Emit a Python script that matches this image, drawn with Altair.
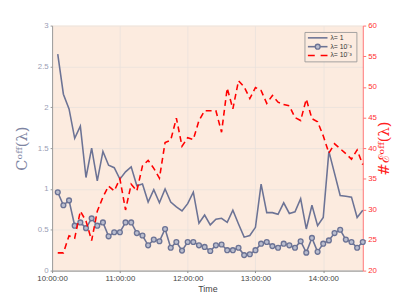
import altair as alt
import pandas as pd

# ---- data (5-minute samples, 10:05 .. 14:35) ----
times = pd.date_range("2020-01-01 10:05", periods=55, freq="5min").strftime("%Y-%m-%dT%H:%M:%S").tolist()

c_off_lambda_1 = [2.65, 2.16, 1.98, 1.62, 1.77, 1.14, 1.50, 1.10, 1.46, 1.29,
                  1.26, 1.12, 1.21, 1.27, 1.04, 1.06, 0.84, 0.99, 0.83, 1.00,
                  0.84, 0.78, 0.73, 0.82, 0.96, 0.58, 0.68, 0.56, 0.63, 0.64,
                  0.59, 0.74, 0.57, 0.41, 0.43, 0.53, 1.06, 0.71, 0.71, 0.69,
                  0.83, 0.70, 0.72, 0.88, 0.51, 0.80, 0.55, 0.65, 1.46, 1.19,
                  0.92, 0.91, 0.90, 0.65, 0.74]

c_off_lambda_1e3 = [0.96, 0.80, 0.86, 0.55, 0.59, 0.52, 0.64, 0.55, 0.59, 0.42,
                    0.47, 0.47, 0.59, 0.59, 0.46, 0.43, 0.31, 0.38, 0.36, 0.51,
                    0.28, 0.35, 0.245, 0.35, 0.35, 0.31, 0.29, 0.24, 0.31, 0.32,
                    0.25, 0.25, 0.28, 0.19, 0.20, 0.25, 0.33, 0.35, 0.30, 0.28,
                    0.33, 0.31, 0.28, 0.36, 0.22, 0.40, 0.23, 0.33, 0.37, 0.46,
                    0.50, 0.38, 0.35, 0.28, 0.35]

e_off_lambda_1e3 = [22.9, 22.9, 25.7, 25.3, 29.7, 28.1, 24.9, 29.7, 32.0, 33.8,
                    33.0, 35.0, 29.9, 34.1, 33.0, 37.1, 38.0, 36.7, 35.1, 40.9,
                    41.3, 44.9, 40.3, 41.7, 41.4, 44.5, 46.1, 46.1, 46.1, 42.6,
                    49.8, 46.4, 51.0, 50.0, 48.1, 49.9, 49.4, 47.3, 48.6, 47.5,
                    47.1, 46.9, 45.0, 44.5, 48.0, 44.8, 44.3, 42.0, 39.2, 40.7,
                    39.9, 39.1, 38.2, 39.7, 37.3]

hour_ticks = [10, 11, 12, 13, 14]
left_ticks = [0, 0.5, 1, 1.5, 2, 2.5, 3]
right_ticks = [20, 25, 30, 35, 40, 45, 50, 55, 60]
legend_labels = ["λ= 1", "λ= 10⁻³", "λ= 10⁻³"]

df = pd.DataFrame({"t": times, "a": c_off_lambda_1, "b": c_off_lambda_1e3, "c": e_off_lambda_1e3})

FONT = "Liberation Sans"
GRAY = "#6C7395"
LIGHT = "#BABDCE"
RED = "#FF0000"
BG = "#FCEBDF"
GRID = "#E9E2DD"


def dt(h, m=0):
    return alt.DateTime(year=2020, month=1, date=1, hours=h, minutes=m)


x_enc = alt.X(
    "t:T",
    scale=alt.Scale(domain=[dt(10), dt(14, 35)]),
    axis=alt.Axis(
        values=[dt(h) for h in hour_ticks], format="%H:%M:%S", title="Time",
        labelFontSize=8, labelColor="#444444", labelFont=FONT, labelFlush=False,
        titleFontSize=9, titleFontWeight="normal", titleColor="#444444", titleFont=FONT,
        grid=True, gridColor=GRID, gridWidth=0.8,
        domainColor="#8A8A8A", tickColor="#8A8A8A", tickSize=2,
        labelPadding=2, titlePadding=2,
    ),
)


def y_left(field):
    return alt.Y(
        f"{field}:Q",
        scale=alt.Scale(domain=[0, 3]),
        axis=alt.Axis(
            values=left_ticks, format="~g", title="Cᵒᶠᶠ(λ)",
            labelFontSize=8, labelColor="#9A9DB4", labelFont=FONT,
            titleFontSize=15, titleFontWeight="normal", titleColor="#7E84A2",
            titleFont="DejaVu Serif", titleAngle=270, titleX=-31, titleY=125,
            titleAlign="center", titleBaseline="middle",
            grid=True, gridColor=GRID, gridWidth=0.8,
            domainColor="#9A9A9A", tickColor="#9A9A9A", tickSize=2, labelPadding=2,
        ),
    )


line_a = alt.Chart(df).mark_line(color=GRAY, strokeWidth=1.6).encode(x=x_enc, y=y_left("a"))
line_b = alt.Chart(df).mark_line(color=GRAY, strokeWidth=1.6).encode(x=x_enc, y=y_left("b"))
pts_b = alt.Chart(df).mark_point(
    shape="circle", filled=True, fill=LIGHT, stroke=GRAY, strokeWidth=1.4, size=24, opacity=1
).encode(x=x_enc, y=y_left("b"))

left = alt.layer(line_a, line_b, pts_b)

right = alt.Chart(df).mark_line(color=RED, strokeWidth=1.6, strokeDash=[6, 4]).encode(
    x=x_enc,
    y=alt.Y(
        "c:Q",
        scale=alt.Scale(domain=[20, 60]),
        axis=alt.Axis(
            orient="right", values=right_ticks, title="#ℰᵒᶠᶠ(λ)",
            labelFontSize=8, labelColor="#FF3030", labelFont=FONT,
            titleFontSize=15, titleFontWeight="normal", titleColor="#FF2020",
            titleFont="DejaVu Serif", titleAngle=270, titleX=21, titleY=125,
            titleAlign="center", titleBaseline="middle",
            grid=False, domainColor="#FF7070", tickColor="#FF7070", tickSize=3, labelPadding=2,
        ),
    ),
)

# ---- legend (drawn inside the plot, top right) ----
one = pd.DataFrame({"k": [0]})
lg_box = alt.Chart(one).mark_rect(fill=BG, stroke="#999999", strokeWidth=0.9).encode(
    x=alt.value(258), x2=alt.value(311), y=alt.value(7), y2=alt.value(37))
lg_l1 = alt.Chart(one).mark_rule(color=GRAY, strokeWidth=1.6).encode(
    x=alt.value(261), x2=alt.value(281), y=alt.value(12.5))
lg_l2 = alt.Chart(one).mark_rule(color=GRAY, strokeWidth=1.6).encode(
    x=alt.value(261), x2=alt.value(281), y=alt.value(21.5))
lg_p2 = alt.Chart(one).mark_point(
    shape="circle", filled=True, fill=LIGHT, stroke=GRAY, strokeWidth=1.4, size=24, opacity=1
).encode(x=alt.value(271), y=alt.value(21.5))
lg_l3 = alt.Chart(one).mark_rule(color=RED, strokeWidth=1.6, strokeDash=[7, 6]).encode(
    x=alt.value(261), x2=alt.value(281), y=alt.value(30.5))
lg_texts = [
    alt.Chart(one).mark_text(align="left", baseline="middle", fontSize=7, font=FONT, color="#333333").encode(
        x=alt.value(284), y=alt.value(yv), text=alt.value(lbl))
    for lbl, yv in zip(legend_labels, [12.5, 21.5, 30.5])
]

chart = alt.layer(
    left, right, lg_box, lg_l1, lg_l2, lg_p2, lg_l3, *lg_texts
).resolve_scale(y="independent").properties(
    width=317, height=250,
    padding={"left": 45, "top": 15, "right": 39, "bottom": 26},
    autosize=alt.AutoSizeParams(type="none"),
).configure_view(fill=BG, stroke=None)

chart.save("out.html", embed_options={"renderer": "svg", "actions": False})
